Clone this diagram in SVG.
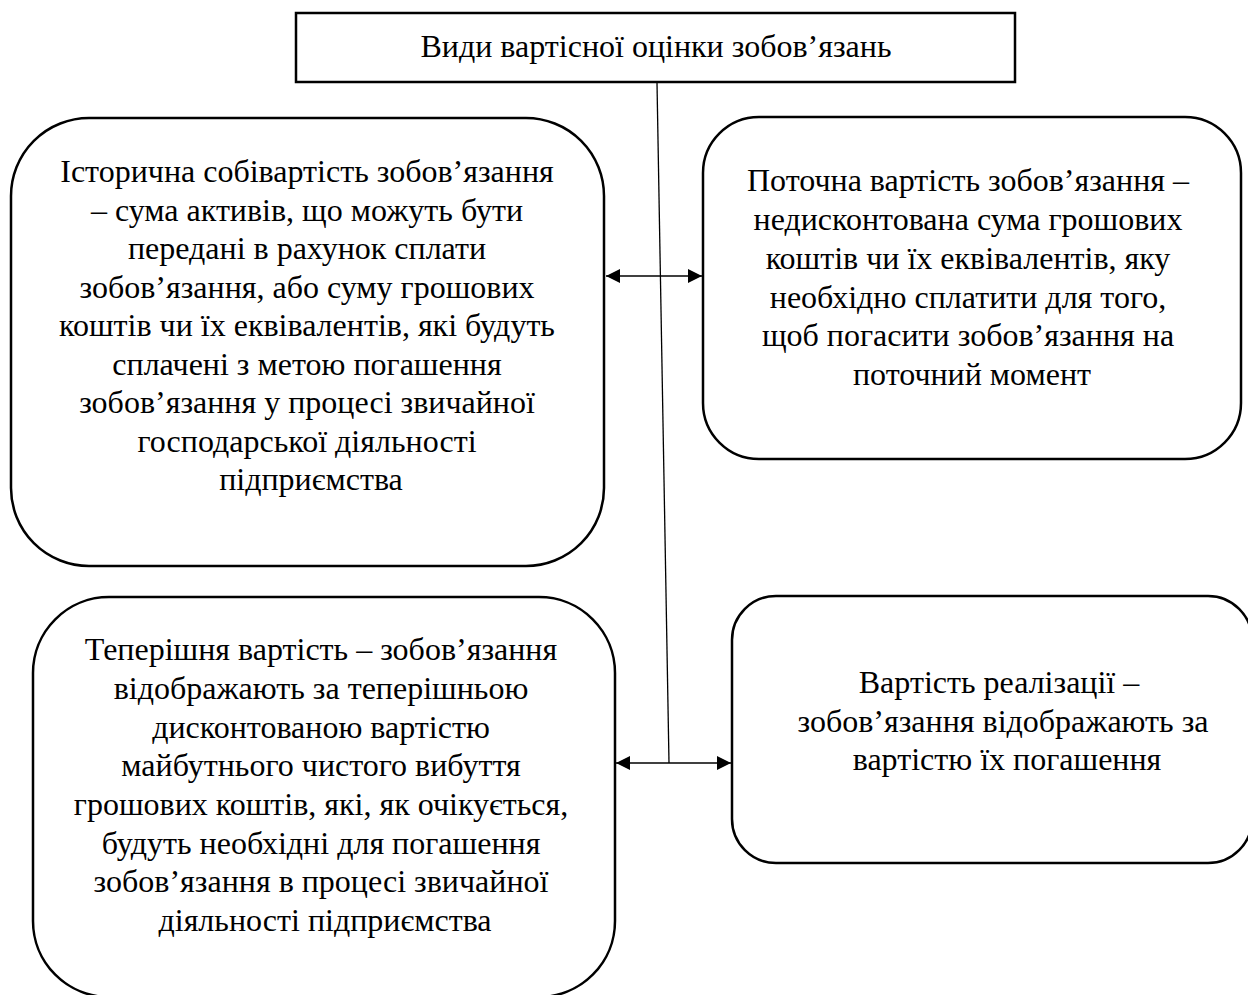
<svg xmlns="http://www.w3.org/2000/svg" width="1248" height="995" viewBox="0 0 1248 995">
<style>
.box{fill:#fff;stroke:#000;stroke-width:2.5}
.t{font-family:"Liberation Serif","Times New Roman",serif;font-size:32px;fill:#000;text-anchor:middle}
.c{stroke:#000;stroke-width:1.3;fill:none}
</style>
<defs>
<marker id="ah" viewBox="0 0 14 14" refX="14" refY="7" markerWidth="14" markerHeight="14" markerUnits="userSpaceOnUse" orient="auto-start-reverse">
<path d="M0,0 L14,7 L0,14 Z" fill="#000"/>
</marker>
</defs>
<rect width="1248" height="995" fill="#fff"/>
<g id="connectors">
<line class="c" x1="657" y1="83" x2="669" y2="763"/>
<line class="c" x1="606" y1="276" x2="702" y2="276" marker-start="url(#ah)" marker-end="url(#ah)"/>
<line class="c" x1="616" y1="763" x2="731" y2="763" marker-start="url(#ah)" marker-end="url(#ah)"/>
</g>
<g id="title">
<rect class="box" x="296" y="13" width="719" height="69"/>
<text class="t" x="656" y="57">Види вартісної оцінки зобов’язань</text>
</g>
<g id="historical">
<rect class="box" x="11" y="118" width="593" height="448" rx="78" ry="78"/>
<text class="t">
<tspan x="311" y="182">Історична собівартість зобов’язання</tspan>
<tspan x="311" y="221">– сума активів, що можуть бути</tspan>
<tspan x="311" y="259">передані в рахунок сплати</tspan>
<tspan x="311" y="298">зобов’язання, або суму грошових</tspan>
<tspan x="311" y="336">коштів чи їх еквівалентів, які будуть</tspan>
<tspan x="311" y="375">сплачені з метою погашення</tspan>
<tspan x="311" y="413">зобов’язання у процесі звичайної</tspan>
<tspan x="311" y="452">господарської діяльності</tspan>
<tspan x="311" y="490">підприємства</tspan>
</text>
</g>
<g id="current">
<rect class="box" x="703" y="117" width="538" height="342" rx="56" ry="56"/>
<text class="t">
<tspan x="972" y="191">Поточна вартість зобов’язання –</tspan>
<tspan x="972" y="230">недисконтована сума грошових</tspan>
<tspan x="972" y="269">коштів чи їх еквівалентів, яку</tspan>
<tspan x="972" y="308">необхідно сплатити для того,</tspan>
<tspan x="972" y="346">щоб погасити зобов’язання на</tspan>
<tspan x="972" y="385">поточний момент</tspan>
</text>
</g>
<g id="present">
<rect class="box" x="33" y="597" width="582" height="400" rx="76" ry="76"/>
<text class="t">
<tspan x="325" y="660">Теперішня вартість – зобов’язання</tspan>
<tspan x="325" y="699">відображають за теперішньою</tspan>
<tspan x="325" y="738">дисконтованою вартістю</tspan>
<tspan x="325" y="776">майбутнього чистого вибуття</tspan>
<tspan x="325" y="815">грошових коштів, які, як очікується,</tspan>
<tspan x="325" y="854">будуть необхідні для погашення</tspan>
<tspan x="325" y="892">зобов’язання в процесі звичайної</tspan>
<tspan x="325" y="931">діяльності підприємства</tspan>
</text>
</g>
<g id="realization">
<rect class="box" x="732" y="596" width="520" height="267" rx="44" ry="44"/>
<text class="t">
<tspan x="1003" y="693">Вартість реалізації –</tspan>
<tspan x="1007" y="732">зобов’язання відображають за</tspan>
<tspan x="1007" y="770">вартістю їх погашення</tspan>
</text>
</g>
</svg>
